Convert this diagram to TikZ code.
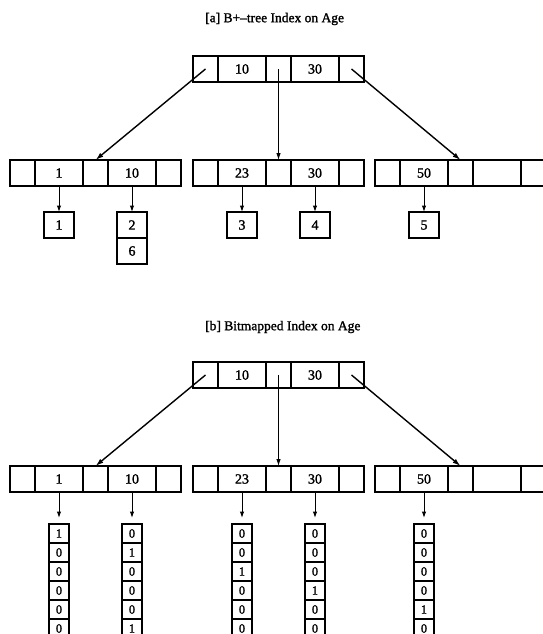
\documentclass[tikz,border=0pt]{standalone}
\usepackage{fontspec}
\setmainfont{Liberation Serif}
% a slightly heavier cut of the same face for all labels
\newfontfamily\labelfont{Liberation Serif}[RawFeature={embolden=1.6}]
\usetikzlibrary{arrows.meta}

% one index node: pointer | key | pointer | key | pointer
\newcommand\idxnode[5]{%
  \node[ptr, anchor=north west] (#1p1) at (#2,#3) {};
  \node[key, anchor=west] (#1k1) at (#1p1.east) {#4};
  \node[ptr, anchor=west] (#1p2) at (#1k1.east) {};
  \node[key, anchor=west] (#1k2) at (#1p2.east) {#5};
  \node[ptr, anchor=west] (#1p3) at (#1k2.east) {};
}
% one bitmap column, six bits from the top
\newcommand\bitcolumn[3]{%
  \foreach \b [count=\i] in {#3} {\node[bit] (#1x\i) at (#2,514.5+19*\i) {\b};}
}

\begin{document}
\begin{tikzpicture}[x=1pt,y=-1pt,
  cell/.style={draw, line width=1.1pt, minimum height=26pt, inner sep=0pt, outer sep=0pt,
               font=\labelfont\fontsize{14}{14}\selectfont},
  ptr/.style={cell, minimum width=25pt},
  key/.style={cell, minimum width=48pt},
  recbox/.style={draw, line width=1.1pt, minimum width=30pt, minimum height=26pt,
                 inner sep=0pt, outer sep=0pt, font=\labelfont\fontsize{14}{14}\selectfont},
  bit/.style={draw, line width=1.1pt, minimum width=20pt, minimum height=19pt,
              inner sep=0pt, outer sep=0pt, font=\labelfont\fontsize{12.5}{12.5}\selectfont},
  link/.style={line width=1.4pt, -{Latex[length=8pt,width=5pt]}},
  vlink/.style={line width=0.9pt, -{Latex[length=7pt,width=4.5pt]}},
  down/.style={line width=1pt, -{Latex[length=6.5pt,width=4.5pt]}},
  heading/.style={anchor=west, inner sep=0pt, font=\labelfont\fontsize{13.5}{13.5}\selectfont}
]
\useasboundingbox (0,0) rectangle (543,634);

% ---------- (a) B+-tree ----------
\node[heading] (ta) at (205,19) {[a] B+–tree Index on Age};

\idxnode{at}{193}{56}{10}{30}
\idxnode{al}{10}{160}{1}{10}
\idxnode{am}{193}{160}{23}{30}
\idxnode{ar}{375}{160}{50}{}

\draw[link]  (atp1.center) -- (alp2.north);
\draw[vlink] (atp2.center) -- (amp2.north);
\draw[link]  (atp3.center) -- (arp2.north);

\node[recbox, anchor=north] (r1) at (59,212) {1};
\node[recbox, anchor=north] (r2) at (132,212) {2};
\node[recbox, anchor=north] (r6) at (r2.south) {6};
\node[recbox, anchor=north] (r3) at (242,212) {3};
\node[recbox, anchor=north] (r4) at (315,212) {4};
\node[recbox, anchor=north] (r5) at (424,212) {5};

\draw[down] (alk1.south) -- (r1.north);
\draw[down] (alk2.south) -- (r2.north);
\draw[down] (amk1.south) -- (r3.north);
\draw[down] (amk2.south) -- (r4.north);
\draw[down] (ark1.south) -- (r5.north);

% ---------- (b) bitmapped index ----------
\node[heading] (tb) at (205,327) {[b] Bitmapped Index on Age};

\idxnode{bt}{193}{362}{10}{30}
\idxnode{bl}{10}{466}{1}{10}
\idxnode{bm}{193}{466}{23}{30}
\idxnode{br}{375}{466}{50}{}

\draw[link]  (btp1.center) -- (blp2.north);
\draw[vlink] (btp2.center) -- (bmp2.north);
\draw[link]  (btp3.center) -- (brp2.north);

\bitcolumn{c1}{59}{1,0,0,0,0,0}
\bitcolumn{c2}{132}{0,1,0,0,0,1}
\bitcolumn{c3}{242}{0,0,1,0,0,0}
\bitcolumn{c4}{315}{0,0,0,1,0,0}
\bitcolumn{c5}{424}{0,0,0,0,1,0}

\draw[down, shorten >=6pt] (blk1.south) -- (c1x1.north);
\draw[down, shorten >=6pt] (blk2.south) -- (c2x1.north);
\draw[down, shorten >=6pt] (bmk1.south) -- (c3x1.north);
\draw[down, shorten >=6pt] (bmk2.south) -- (c4x1.north);
\draw[down, shorten >=6pt] (brk1.south) -- (c5x1.north);
\end{tikzpicture}
\end{document}
